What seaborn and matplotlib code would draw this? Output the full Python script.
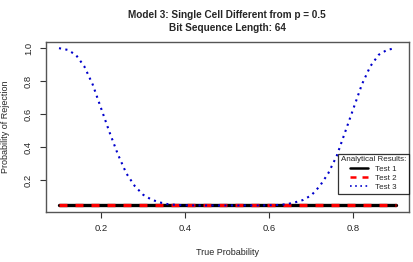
import numpy as np
import pandas as pd
import matplotlib
matplotlib.use("Agg")
import matplotlib.pyplot as plt
import seaborn as sns
from matplotlib.lines import Line2D

# values
true_p = [0.10, 0.12, 0.14, 0.16, 0.18, 0.20, 0.22, 0.24, 0.26, 0.28,
          0.30, 0.32, 0.34, 0.36, 0.38, 0.40, 0.42, 0.44, 0.46, 0.48,
          0.50, 0.52, 0.54, 0.56, 0.58, 0.60, 0.62, 0.64, 0.66, 0.68,
          0.70, 0.72, 0.74, 0.76, 0.78, 0.80, 0.82, 0.84, 0.86, 0.88, 0.90]
test1 = [0.045] * 41
test2 = [0.045] * 41
test3 = [1.00, 0.99, 0.96, 0.89, 0.78, 0.635, 0.49, 0.355, 0.24, 0.163,
         0.11, 0.08, 0.063, 0.052, 0.048, 0.046, 0.045, 0.045, 0.045, 0.045,
         0.045, 0.045, 0.045, 0.045, 0.045, 0.046, 0.048, 0.052, 0.063, 0.078,
         0.107, 0.163, 0.24, 0.345, 0.49, 0.635, 0.78, 0.89, 0.96, 0.99, 1.00]

df = pd.DataFrame({"p": true_p, "Test 1": test1, "Test 2": test2, "Test 3": test3})

sns.set_style("white")
plt.rcParams['font.family'] = ['Liberation Sans', 'DejaVu Sans']

fig = plt.figure(figsize=(4.14, 2.62), dpi=100)
ax = fig.add_axes([0.110, 0.192, 0.878, 0.648])

sns.lineplot(data=df, x="p", y="Test 1", ax=ax, color="black", lw=2.4)
sns.lineplot(data=df, x="p", y="Test 2", ax=ax, color="red", lw=2.4,
             linestyle=(0, (2.4, 2.4)))
sns.lineplot(data=df, x="p", y="Test 3", ax=ax, color="#0000cc", lw=1.5,
             linestyle=(0, (1, 2.1)))

ax.set_xlim(0.068, 0.932)
ax.set_ylim(0.007, 1.038)
ax.set_xticks([0.2, 0.4, 0.6, 0.8])
ax.set_yticks([0.2, 0.4, 0.6, 0.8, 1.0])
ax.set_xticklabels(["0.2", "0.4", "0.6", "0.8"])
ax.set_yticklabels(["0.2", "0.4", "0.6", "0.8", "1.0"], rotation=90, va="center")
ax.tick_params(axis="both", direction="out", length=4, width=0.8, color="#333333",
               labelsize=6.8, pad=5, bottom=True, left=True)
for s in ax.spines.values():
    s.set_color("#555555")
    s.set_linewidth(1.0)

ax.set_xlabel("True Probability", fontsize=6.5, labelpad=11)
ax.set_ylabel("Probability of Rejection", fontsize=6.5, labelpad=10)
ax.set_title("Model 3: Single Cell Different from p = 0.5\nBit Sequence Length: 64",
             fontsize=7.2, fontweight="bold", pad=8, linespacing=1.3)

handles = [Line2D([], [], color="black", lw=1.8),
           Line2D([], [], color="red", lw=1.8, linestyle=(0, (2.4, 2.4))),
           Line2D([], [], color="#0000cc", lw=1.2, linestyle=(0, (1, 2.1)))]
leg = ax.legend(handles, ["Test 1", "Test 2", "Test 3"], title="Analytical Results:",
                loc="lower right", bbox_to_anchor=(1.0, 0.104), borderaxespad=0,
                fontsize=5.8, title_fontsize=5.8, frameon=True, fancybox=False,
                handlelength=2.2, handletextpad=0.9, labelspacing=0.2,
                borderpad=0.35)
leg.get_frame().set_edgecolor("black")
leg.get_frame().set_linewidth(0.9)
leg._legend_box.align = "center"

fig.savefig("out.png", dpi=100)
